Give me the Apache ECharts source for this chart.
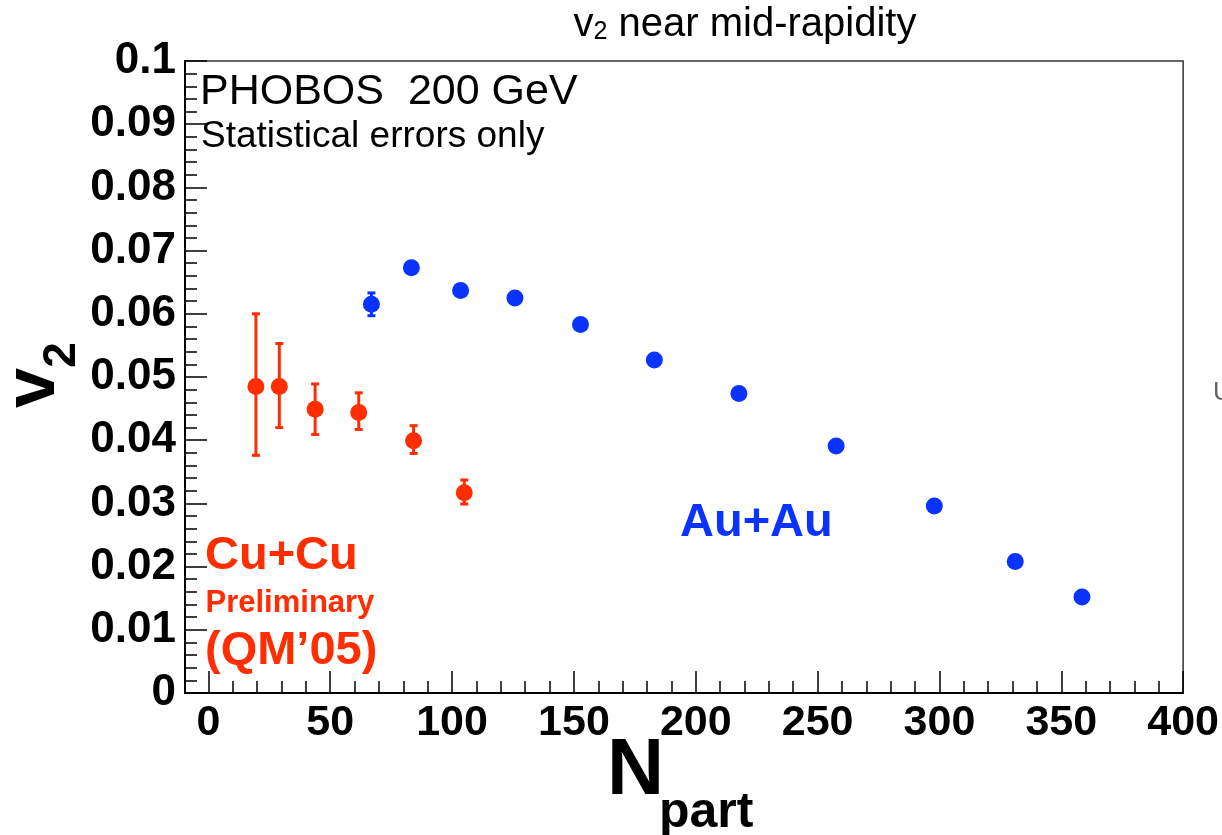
<!DOCTYPE html>
<html><head><meta charset="utf-8">
<script src="https://cdn.jsdelivr.net/npm/echarts@6/dist/echarts.min.js"></script>
<style>html,body{margin:0;padding:0;background:#fff}#c{width:1222px;height:835px}</style>
</head><body><div id="c"></div>
<script>
// ---- data ----
const cuNpart = [19.5, 29.1, 43.8, 61.7, 84.2, 105.0];
const cuV2    = [0.0485, 0.0485, 0.0449, 0.0444, 0.0399, 0.0317];
const cuLow   = [0.0376, 0.0420, 0.0409, 0.0417, 0.0379, 0.0299];
const cuHigh  = [0.0600, 0.0553, 0.0489, 0.0475, 0.0423, 0.0337];

const auNpart = [66.9, 83.3, 103.5, 125.8, 152.7, 183.0, 217.7, 257.6, 297.9, 331.1, 358.5];
const auV2    = [0.0615, 0.0673, 0.0637, 0.0625, 0.0583, 0.0527, 0.0474, 0.0391, 0.0296, 0.0208, 0.0152];
const auErr   = [0.0018, 0.0005, 0.0005, 0.0005, 0.0005, 0.0005, 0.0005, 0.0005, 0.0005, 0.0005, 0.0005];

const xMajorTicks = [0, 50, 100, 150, 200, 250, 300, 350, 400];
const xMinorTicks = [10, 20, 30, 40, 60, 70, 80, 90, 110, 120, 130, 140, 160, 170, 180, 190,
  210, 220, 230, 240, 260, 270, 280, 290, 310, 320, 330, 340, 360, 370, 380, 390];

const RED = '#ff2d00';
const BLUE = '#0b33ff';
const FONT = "'Liberation Sans', Arial, Helvetica, sans-serif";

function errRender(color, capHalf) {
  return function (params, api) {
    const x = api.value(0), lo = api.value(1), hi = api.value(2);
    const pLo = api.coord([x, lo]), pHi = api.coord([x, hi]);
    const style = { stroke: color, lineWidth: 3 };
    return {
      type: 'group', children: [
        { type: 'line', shape: { x1: pLo[0], y1: pLo[1], x2: pHi[0], y2: pHi[1] }, style: style },
        { type: 'line', shape: { x1: pHi[0] - capHalf, y1: pHi[1], x2: pHi[0] + capHalf, y2: pHi[1] }, style: style },
        { type: 'line', shape: { x1: pLo[0] - capHalf, y1: pLo[1], x2: pLo[0] + capHalf, y2: pLo[1] }, style: style }
      ]
    };
  };
}

const chart = echarts.init(document.getElementById('c'), null, { renderer: 'canvas' });
const option = {
  animation: false,
  backgroundColor: '#ffffff',
  textStyle: { fontFamily: FONT },
  grid: { left: 185, right: 38, top: 61, bottom: 142, show: true, borderColor: '#333', borderWidth: 1.5 },
  xAxis: [{
    type: 'value', min: -9.6, max: 400, position: 'bottom',
    axisLine: { show: true, onZero: false, lineStyle: { color: '#000', width: 2 } },
    axisTick: { show: true, inside: true, length: 22, customValues: xMajorTicks, lineStyle: { color: '#000', width: 1.5 } },
    axisLabel: { show: true, customValues: xMajorTicks, margin: 9, fontSize: 43, fontWeight: 'bold', color: '#000', fontFamily: FONT },
    splitLine: { show: false }
  }, {
    type: 'value', min: -9.6, max: 400, position: 'bottom', gridIndex: 0,
    axisLine: { show: false, onZero: false },
    axisTick: { show: true, inside: true, length: 12, customValues: xMinorTicks, lineStyle: { color: '#000', width: 1.5 } },
    axisLabel: { show: false },
    splitLine: { show: false }
  }],
  yAxis: {
    type: 'value', min: 0, max: 0.1, interval: 0.01, position: 'left',
    axisLine: { show: true, onZero: false, lineStyle: { color: '#000', width: 2 } },
    axisTick: { show: true, inside: true, length: 22, lineStyle: { color: '#000', width: 1.5 } },
    minorTick: { show: true, splitNumber: 5, length: 12, lineStyle: { color: '#000', width: 1.5 } },
    axisLabel: {
      margin: 9, fontSize: 44, fontWeight: 'bold', color: '#000', fontFamily: FONT,
      formatter: function (v) { return v === 0 ? '0' : String(+v.toFixed(2)); }
    },
    splitLine: { show: false }
  },
  series: [
    {
      type: 'custom', name: 'CuErr', xAxisIndex: 0, yAxisIndex: 0,
      renderItem: errRender(RED, 4),
      encode: { x: 0, y: [1, 2] },
      data: cuNpart.map(function (n, i) { return [n, cuLow[i], cuHigh[i]]; }),
      z: 2
    },
    {
      type: 'custom', name: 'AuErr', xAxisIndex: 0, yAxisIndex: 0,
      renderItem: errRender(BLUE, 4),
      encode: { x: 0, y: [1, 2] },
      data: auNpart.map(function (n, i) { return [n, auV2[i] - auErr[i], auV2[i] + auErr[i]]; }),
      z: 2
    },
    {
      type: 'scatter', name: 'Cu+Cu', xAxisIndex: 0, yAxisIndex: 0,
      symbol: 'circle', symbolSize: 17,
      itemStyle: { color: RED, opacity: 1 },
      data: cuNpart.map(function (n, i) { return [n, cuV2[i]]; }),
      z: 3
    },
    {
      type: 'scatter', name: 'Au+Au', xAxisIndex: 0, yAxisIndex: 0,
      symbol: 'circle', symbolSize: 17,
      itemStyle: { color: BLUE, opacity: 1 },
      data: auNpart.map(function (n, i) { return [n, auV2[i]]; }),
      z: 3
    }
  ],
  graphic: [
    { type: 'text', x: 745, y: 24, z: 10,
      style: { text: '{v|v}{s|2}{t| near mid-rapidity}', fill: '#000', align: 'center', verticalAlign: 'middle',
        rich: {
          v: { fontSize: 40, fontFamily: FONT, verticalAlign: 'bottom', lineHeight: 42 },
          s: { fontSize: 25, fontFamily: FONT, verticalAlign: 'bottom', lineHeight: 34 },
          t: { fontSize: 40, fontFamily: FONT, verticalAlign: 'bottom', lineHeight: 42 }
        } } },
    { type: 'text', x: 200, y: 91.7, z: 10, style: { text: 'PHOBOS  200 GeV', font: "43px " + FONT, fill: '#000', verticalAlign: 'middle', align: 'left' } },
    { type: 'text', x: 201, y: 137, z: 10, style: { text: 'Statistical errors only', font: "37px " + FONT, fill: '#000', verticalAlign: 'middle', align: 'left' } },
    { type: 'text', x: 680, y: 523.5, z: 10, style: { text: 'Au+Au', font: "bold 47px " + FONT, fill: BLUE, verticalAlign: 'middle', align: 'left' } },
    { type: 'text', x: 205, y: 556.5, z: 10, style: { text: 'Cu+Cu', font: "bold 47px " + FONT, fill: RED, verticalAlign: 'middle', align: 'left' } },
    { type: 'text', x: 205.5, y: 603, z: 10, style: { text: 'Preliminary', font: "bold 31px " + FONT, fill: RED, verticalAlign: 'middle', align: 'left' } },
    { type: 'text', x: 205, y: 651.5, z: 10, style: { text: '(QM\u201905)', font: "bold 47px " + FONT, fill: RED, verticalAlign: 'middle', align: 'left' } },
    { type: 'text', x: 607, y: 772, z: 10, style: { text: 'N', font: "bold 79px " + FONT, fill: '#000', verticalAlign: 'middle', align: 'left' } },
    { type: 'text', x: 659, y: 813, z: 10, style: { text: 'part', font: "bold 50px " + FONT, fill: '#000', verticalAlign: 'middle', align: 'left' } },
    { type: 'text', x: 34, y: 388, rotation: Math.PI / 2, z: 10, style: { text: 'v', font: "bold 72px " + FONT, fill: '#000', verticalAlign: 'middle', align: 'center' } },
    { type: 'text', x: 62, y: 355, rotation: Math.PI / 2, z: 10, style: { text: '2', font: "bold 46px " + FONT, fill: '#000', verticalAlign: 'middle', align: 'center' } },
    { type: 'text', x: 1213, y: 393, z: 10, style: { text: 'U', font: "26px " + FONT, fill: '#666', verticalAlign: 'middle', align: 'left' } }
  ]
};
chart.setOption(option);
</script>
</body></html>
